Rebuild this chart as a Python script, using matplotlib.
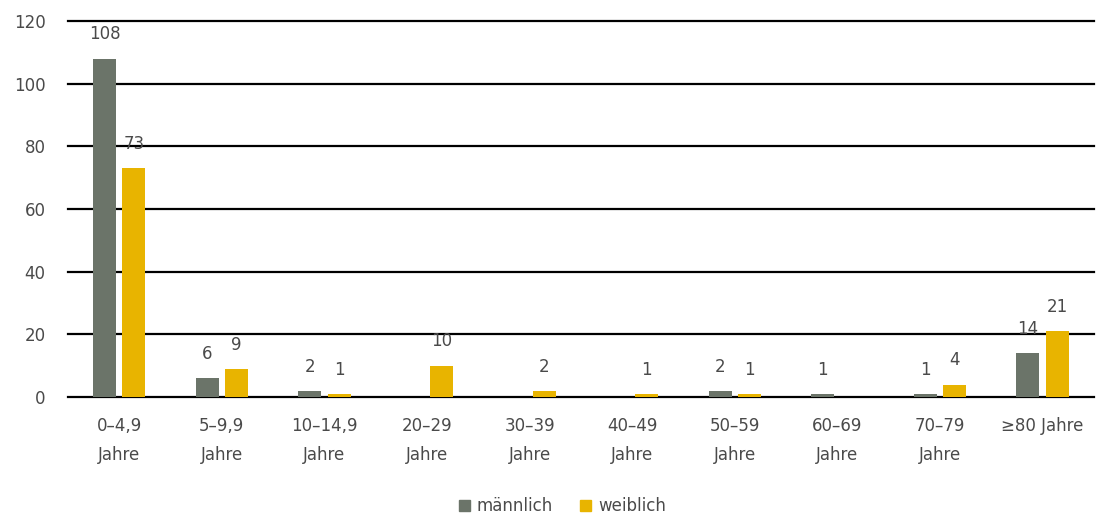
import matplotlib.pyplot as plt
import numpy as np

plt.rcParams['font.family'] = ['DejaVu Sans']

categories = ["0–4,9\nJahre", "5–9,9\nJahre", "10–14,9\nJahre", "20–29\nJahre",
              "30–39\nJahre", "40–49\nJahre", "50–59\nJahre", "60–69\nJahre",
              "70–79\nJahre", "≥80 Jahre"]
maennlich = [108, 6, 2, 0, 0, 0, 2, 1, 1, 14]
weiblich = [73, 9, 1, 10, 2, 1, 1, 0, 4, 21]
yticks = [0, 20, 40, 60, 80, 100, 120]

c_m = "#6b7469"
c_w = "#e8b400"
txt = "#4a4a4a"

fig = plt.figure(figsize=(10.96, 5.15), dpi=100)
ax = fig.add_axes([0.062, 0.229, 0.936, 0.730])

x = np.arange(len(categories))
w = 0.225
off = 0.143
bm = ax.bar(x - off, maennlich, w, color=c_m, zorder=3)
bw = ax.bar(x + off, weiblich, w, color=c_w, zorder=3)

for bars, vals in ((bm, maennlich), (bw, weiblich)):
    for b, v in zip(bars, vals):
        if v:
            ax.annotate(str(v), (b.get_x() + b.get_width() / 2, v),
                        xytext=(0, 11), textcoords="offset points",
                        ha="center", va="bottom", fontsize=12, color=txt, zorder=4)

ax.set_xlim(-0.5, len(categories) - 0.5)
ax.set_ylim(0, 120)
ax.set_yticks(yticks)
ax.yaxis.grid(True, color="black", linewidth=1.6, zorder=0)
for gl in ax.get_ygridlines():
    gl.set_clip_on(False)
ax.set_axisbelow(True)
for s in ax.spines.values():
    s.set_visible(False)
ax.tick_params(axis="both", length=0, labelsize=12, labelcolor=txt)
ax.tick_params(axis="y", pad=16)
ax.tick_params(axis="x", pad=14)
ax.set_xticks(x)
ax.set_xticklabels(categories, linespacing=1.8)

handles = [plt.Rectangle((0, 0), 1, 1, color=c_m), plt.Rectangle((0, 0), 1, 1, color=c_w)]
leg = fig.legend(handles, ["männlich", "weiblich"], loc="lower center",
                 bbox_to_anchor=(0.513, -0.03), ncol=2, frameon=False, fontsize=12,
                 handlelength=0.7, handleheight=0.7, handletextpad=0.4, columnspacing=1.6)
for t in leg.get_texts():
    t.set_color(txt)

fig.savefig("out.png", dpi=100)
